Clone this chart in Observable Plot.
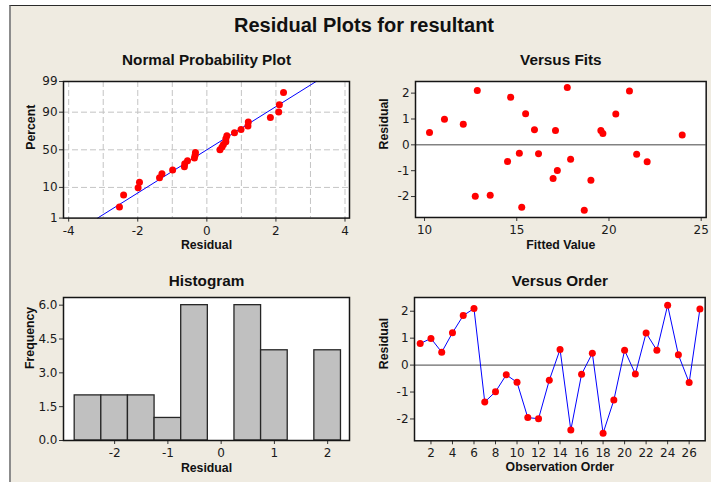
<!DOCTYPE html>
<html>
<head>
<meta charset="utf-8">
<script src="https://cdn.jsdelivr.net/npm/d3@7"></script>
<script src="https://cdn.jsdelivr.net/npm/@observablehq/plot@0.6"></script>
<style>
  body { margin: 0; background: #ffffff; }
  #root { position: relative; width: 711px; height: 482px; overflow: hidden; background: #ffffff; }
  #bg { position: absolute; left: 9px; top: 5px; width: 702px; height: 477px; background: #EFEBE1;
        border-top: 1.5px solid #2a2a2a; border-left: 2px solid #8c8c8c; box-sizing: border-box; }
  #title { position: absolute; left: 0; width: 728px; top: 15px; line-height: 20px; text-align: center;
           font-family: "Liberation Sans", Arial, sans-serif; font-weight: bold; font-size: 20px; color: #111; }
  svg { position: absolute; }
</style>
</head>
<body>
<div id="root">
  <div id="bg"></div>
  <div id="title">Residual Plots for resultant</div>
</div>
<script>
// ---------------- data ----------------
const mainTitle = "Residual Plots for resultant";
const panelTitles = ["Normal Probability Plot", "Versus Fits", "Histogram", "Versus Order"];

// residuals in observation order 1..27
const observation = [1,2,3,4,5,6,7,8,9,10,11,12,13,14,15,16,17,18,19,20,21,22,23,24,25,26,27];
const residuals = [0.80, 0.99, 0.48, 1.20, 1.84, 2.10, -1.37, -0.99, -0.36, -0.64, -1.95, -1.99, -0.56, 0.58,
                   -2.41, -0.34, 0.44, -2.53, -1.30, 0.55, -0.33, 1.19, 0.55, 2.22, 0.38, -0.65, 2.08];
// fitted values, same order
const fitted = [12.10, 11.08, 10.27, 15.48, 14.67, 12.86, 19.02, 17.20, 21.50, 14.50, 13.56, 12.75, 17.92, 15.96,
                15.27, 16.18, 19.67, 18.66, 16.97, 17.10, 15.14, 20.37, 19.56, 17.74, 23.97, 22.07, 21.11];

// normal line
const fitMean = 0.0;
const fitSd = 1.36;

// tick labels
const npPercentTicks = [1, 10, 50, 90, 99];
const npXTicks = [-4, -2, 0, 2, 4];
const npGridX = [-4, -3, -2, -1, 0, 1, 2, 3, 4];
const npGridPercent = [10, 50, 90];
const fitsXTicks = [10, 15, 20, 25];
const residTicks = [-2, -1, 0, 1, 2];
const histXTicks = [-2, -1, 0, 1, 2];
const histYTicks = [0, 1.5, 3, 4.5, 6];
const histEdges = [-2.75, -2.25, -1.75, -1.25, -0.75, -0.25, 0.25, 0.75, 1.25, 1.75, 2.25];
const orderXTicks = [2, 4, 6, 8, 10, 12, 14, 16, 18, 20, 22, 24, 26];

// ---------------- helpers ----------------
function probit(p) {
  const a=[-3.969683028665376e+01,2.209460984245205e+02,-2.759285104469687e+02,1.383577518672690e+02,-3.066479806614716e+01,2.506628277459239e+00];
  const b=[-5.447609879822406e+01,1.615858368580409e+02,-1.556989798598866e+02,6.680131188771972e+01,-1.328068155288572e+01];
  const c=[-7.784894002430293e-03,-3.223964580411365e-01,-2.400758277161838e+00,-2.549732539343734e+00,4.374664141464968e+00,2.938163982698783e+00];
  const d=[7.784695709041462e-03,3.224671290700398e-01,2.445134137142996e+00,3.754408661907416e+00];
  const pl = 0.02425, ph = 1 - pl;
  let q, r;
  if (p < pl) { q = Math.sqrt(-2*Math.log(p)); return (((((c[0]*q+c[1])*q+c[2])*q+c[3])*q+c[4])*q+c[5])/((((d[0]*q+d[1])*q+d[2])*q+d[3])*q+1); }
  if (p <= ph) { q = p - 0.5; r = q*q; return (((((a[0]*r+a[1])*r+a[2])*r+a[3])*r+a[4])*r+a[5])*q/(((((b[0]*r+b[1])*r+b[2])*r+b[3])*r+b[4])*r+1); }
  q = Math.sqrt(-2*Math.log(1-p)); return -(((((c[0]*q+c[1])*q+c[2])*q+c[3])*q+c[4])*q+c[5])/((((d[0]*q+d[1])*q+d[2])*q+d[3])*q+1);
}

const n = residuals.length;
const npData = residuals.slice().sort(d3.ascending).map((r, i) => ({r, z: probit((i + 1 - 0.3) / (n + 0.4))}));
const npLine = [1, 99].map(p => ({x: fitMean + fitSd * probit(p / 100), z: probit(p / 100)}));
const pts = observation.map((o, i) => ({o, res: residuals[i], fit: fitted[i]}));

const root = document.getElementById("root");
const ML = 60, MR = 6, MT = 30, MB = 40;
const TICK_FONT = '"DejaVu Sans", Verdana, sans-serif';
const BOLD_FONT = '"Liberation Sans", Arial, sans-serif';
const fmt = d => String(d);

function panel(frame, cfg) {
  const [x0, y0, x1, y1] = frame;
  const width = (x1 - x0) + ML + MR;
  const height = (y1 - y0) + MT + MB;
  const marks = [
    Plot.frame({fill: "white", stroke: "none"}),
    ...cfg.under,
    Plot.axisX({ticks: cfg.xTicks, tickFormat: cfg.xFormat || fmt, tickSize: 4, tickPadding: 4, label: null, stroke: "#333"}),
    Plot.axisY({ticks: cfg.yTicks, tickFormat: cfg.yFormat || fmt, tickSize: 4, tickPadding: 2, label: null, stroke: "#333"}),
    ...cfg.over,
    Plot.frame({stroke: "#151515", strokeWidth: 1.5}),
    Plot.text([cfg.title], {text: d => d, frameAnchor: "top", lineAnchor: "middle", dy: cfg.titleDy, fontFamily: BOLD_FONT, fontWeight: "bold", fontSize: 15.3, fill: "#111"}),
    Plot.text([cfg.xLabel], {text: d => d, frameAnchor: "bottom", lineAnchor: "middle", dy: cfg.xLabelDy, fontFamily: BOLD_FONT, fontWeight: "bold", fontSize: 12.3, fill: "#111"}),
    Plot.text([cfg.yLabel], {text: d => d, frameAnchor: "left", lineAnchor: "middle", dx: cfg.yLabelDx, rotate: -90, fontFamily: BOLD_FONT, fontWeight: "bold", fontSize: 12.3, fill: "#111"})
  ];
  const svg = Plot.plot({
    width, height,
    marginLeft: ML, marginRight: MR, marginTop: MT, marginBottom: MB,
    style: {background: "transparent", overflow: "visible", fontFamily: TICK_FONT, fontSize: "12px", color: "#1a1a1a"},
    x: {domain: cfg.xDomain},
    y: {domain: cfg.yDomain},
    marks
  });
  svg.style.position = "absolute";
  svg.style.left = (x0 - ML) + "px";
  svg.style.top = (y0 - MT) + "px";
  svg.style.maxWidth = "none";
  root.appendChild(svg);
}

// 1. Normal probability plot
panel([63.3, 80.7, 349.3, 217.3], {
  title: panelTitles[0], titleDy: -21.9,
  xLabel: "Residual", xLabelDy: 27,
  yLabel: "Percent", yLabelDx: -32.5,
  xDomain: [-4.15, 4.13], yDomain: [probit(0.01), probit(0.99)],
  xTicks: npXTicks,
  yTicks: npPercentTicks.map(p => probit(p / 100)),
  yFormat: (d, i) => String(npPercentTicks[i]),
  under: [
    Plot.gridX({ticks: npGridX, stroke: "#c4c4c4", strokeOpacity: 1, strokeDasharray: "6,3"}),
    Plot.gridY({ticks: npGridPercent.map(p => probit(p / 100)), stroke: "#c4c4c4", strokeOpacity: 1, strokeDasharray: "6,3"})
  ],
  over: [
    Plot.line(npLine, {x: "x", y: "z", stroke: "#0000ff", strokeWidth: 1}),
    Plot.dot(npData, {x: "r", y: "z", r: 3.5, fill: "#ff0000", stroke: "none"})
  ]
});

// 2. Versus fits
panel([415, 80.7, 705.7, 216.7], {
  title: panelTitles[1], titleDy: -21.9,
  xLabel: "Fitted Value", xLabelDy: 27.5,
  yLabel: "Residual", yLabelDx: -31.7,
  xDomain: [9.51, 25.27], yDomain: [-2.81, 2.45],
  xTicks: fitsXTicks, yTicks: residTicks,
  under: [],
  over: [
    Plot.ruleY([0], {stroke: "#444", strokeWidth: 1}),
    Plot.dot(pts, {x: "fit", y: "res", r: 3.5, fill: "#ff0000", stroke: "none"})
  ]
});

// 3. Histogram
panel([63.3, 296.7, 349.3, 439.7], {
  title: panelTitles[2], titleDy: -16.4,
  xLabel: "Residual", xLabelDy: 28,
  yLabel: "Frequency", yLabelDx: -33.6,
  xDomain: [-2.96, 2.41], yDomain: [0, 6.34],
  xTicks: histXTicks, yTicks: histYTicks,
  yFormat: d => d.toFixed(1),
  under: [
    Plot.rectY(residuals, Plot.binX({y: "count"}, {x: d => d, thresholds: histEdges, domain: [histEdges[0], histEdges[histEdges.length - 1]],
      fill: "#c0c0c0", stroke: "#262626", strokeWidth: 1.3, inset: 0}))
  ],
  over: []
});

// 4. Versus order
panel([414.3, 296.7, 705, 440], {
  title: panelTitles[3], titleDy: -16.4,
  xLabel: "Observation Order", xLabelDy: 26.7,
  yLabel: "Residual", yLabelDx: -30.6,
  xDomain: [0.47, 27.49], yDomain: [-2.81, 2.51],
  xTicks: orderXTicks, yTicks: residTicks,
  under: [],
  over: [
    Plot.ruleY([0], {stroke: "#444", strokeWidth: 1}),
    Plot.line(pts, {x: "o", y: "res", stroke: "#0000ff", strokeWidth: 1}),
    Plot.dot(pts, {x: "o", y: "res", r: 3.5, fill: "#ff0000", stroke: "none"})
  ]
});
</script>
</body>
</html>
